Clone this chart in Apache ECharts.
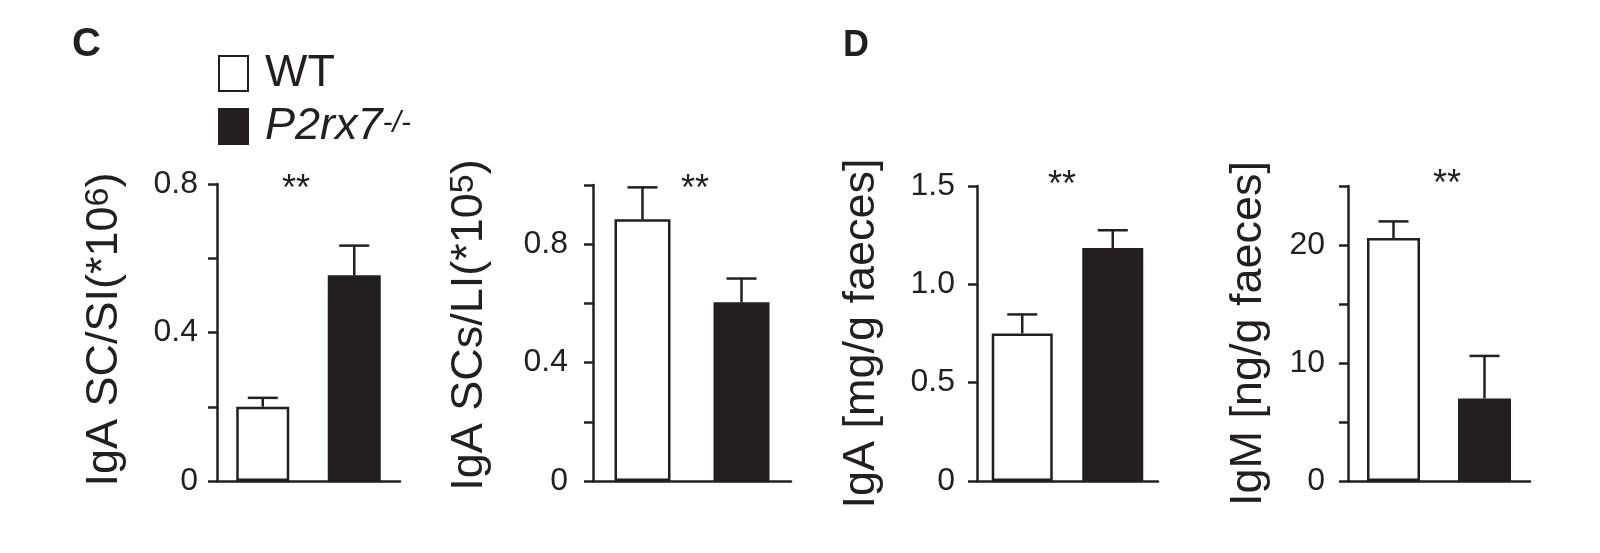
<!DOCTYPE html>
<html>
<head>
<meta charset="utf-8">
<script src="https://cdn.jsdelivr.net/npm/echarts@6/dist/echarts.min.js"></script>
<style>
  html, body { margin: 0; padding: 0; background: #fff; }
  #chart { width: 1600px; height: 553px; }
</style>
</head>
<body>
<div id="chart"></div>
<script>
// 数据：四个小图，每个两组（WT / P2rx7-/-）
const categories = ['WT', 'P2rx7-/-'];
const wtMeans = [0.20, 0.884, 0.75, 20.6];
const wtErrors = [0.024, 0.108, 0.097, 1.4];
const koMeans = [0.554, 0.604, 1.185, 7.0];
const koErrors = [0.080, 0.080, 0.090, 3.6];

// 坐标轴
const axisMax = [0.8, 1.0, 1.5, 25];
const axisStep = [0.2, 0.2, 0.5, 5];
const tickLabels = [
    ['0', '0.4', '0.8'],
    ['0', '0.4', '0.8'],
    ['0', '0.5', '1.0', '1.5'],
    ['0', '10', '20']
];
const axisNames = [
    'IgA SC/SI(*10{sup|6})',
    'IgA SCs/LI(*10{sup|5})',
    'IgA [mg/g faeces]',
    'IgM [ng/g faeces]'
];

// 布局（像素）
const gridBoxes = [
    { left: 217, top: 184, width: 183, height: 297 },
    { left: 593, top: 185, width: 198, height: 296 },
    { left: 977, top: 186, width: 181, height: 295 },
    { left: 1348, top: 186, width: 182, height: 295 }
];
const labelMargins = [19, 25, 22, 23];
const nameGaps = [90, 101, 93, 77];
const nameShift = [3, 8, 0, 0];
const barWidths = [53, 56, 61, 53];
const starPos = [[297, 172], [696, 172], [1063, 168], [1448, 167]];

const INK = '#231f20';
const FONT = '"Liberation Sans", Arial, Helvetica, sans-serif';

const myChart = echarts.init(document.getElementById('chart'));

const grids = gridBoxes.map(g => ({ ...g, containLabel: false }));

const xAxes = gridBoxes.map((g, i) => ({
    type: 'category',
    gridIndex: i,
    data: categories,
    axisLine: { lineStyle: { color: INK, width: 2.5 } },
    axisTick: { alignWithLabel: true, length: 9, lineStyle: { color: INK, width: 2.5 } },
    axisLabel: { show: false }
}));

const yAxes = gridBoxes.map((g, i) => ({
    type: 'value',
    gridIndex: i,
    min: 0,
    max: axisMax[i],
    interval: axisStep[i],
    splitLine: { show: false },
    axisLine: { show: true, lineStyle: { color: INK, width: 2.5 } },
    axisTick: { show: true, length: 9, lineStyle: { color: INK, width: 2.5 } },
    axisLabel: {
        margin: labelMargins[i],
        fontFamily: FONT,
        fontSize: 32,
        color: INK,
        formatter: function (v) {
            const hit = tickLabels[i].find(t => Math.abs(Number(t) - v) < 1e-6);
            return hit === undefined ? '' : hit;
        }
    },
    name: axisNames[i],
    nameLocation: 'middle',
    nameGap: nameGaps[i],
    nameTextStyle: {
        fontFamily: FONT,
        fontSize: 45,
        color: INK,
        padding: [0, 0, 0, nameShift[i] * 2],
        rich: {
            sup: { fontFamily: FONT, fontSize: 34, color: INK, verticalAlign: 'top' }
        }
    }
}));

const series = [];
gridBoxes.forEach((g, i) => {
    series.push({
        name: 'WT',
        type: 'bar',
        xAxisIndex: i,
        yAxisIndex: i,
        barWidth: barWidths[i],
        barGap: '-100%',
        data: [wtMeans[i], '-'],
        itemStyle: { color: '#fff', borderColor: INK, borderWidth: 2.5 }
    });
    series.push({
        name: 'P2rx7-/-',
        type: 'bar',
        xAxisIndex: i,
        yAxisIndex: i,
        barWidth: barWidths[i],
        barGap: '-100%',
        data: ['-', koMeans[i]],
        itemStyle: { color: INK, borderColor: INK, borderWidth: 2.5 }
    });
    // 误差线（只画上半部分）
    series.push({
        type: 'custom',
        xAxisIndex: i,
        yAxisIndex: i,
        z: 3,
        data: [
            [0, wtMeans[i], wtMeans[i] + wtErrors[i]],
            [1, koMeans[i], koMeans[i] + koErrors[i]]
        ],
        renderItem: function (params, api) {
            const base = api.coord([api.value(0), api.value(1)]);
            const top = api.coord([api.value(0), api.value(2)]);
            const style = { stroke: INK, lineWidth: 2.5 };
            return {
                type: 'group',
                children: [
                    { type: 'line', shape: { x1: base[0], y1: base[1], x2: top[0], y2: top[1] }, style: style },
                    { type: 'line', shape: { x1: top[0] - 15, y1: top[1], x2: top[0] + 15, y2: top[1] }, style: style }
                ]
            };
        }
    });
});

// 面板字母和显著性星号
const titles = [
    { text: 'C', left: 72, top: 25, padding: 0, textStyle: { fontFamily: FONT, fontSize: 40, fontWeight: 'bold', color: INK } },
    { text: 'D', left: 843, top: 28, padding: 0, textStyle: { fontFamily: FONT, fontSize: 36, fontWeight: 'bold', color: INK } }
];
starPos.forEach(p => {
    titles.push({
        text: '**',
        left: p[0] - 15,
        top: p[1],
        padding: 0,
        textStyle: { fontFamily: FONT, fontSize: 36, fontWeight: 'normal', color: INK }
    });
});

const option = {
    animation: false,
    backgroundColor: '#fff',
    title: titles,
    legend: {
        left: 213,
        top: 46,
        orient: 'vertical',
        icon: 'rect',
        itemWidth: 29,
        itemHeight: 35,
        itemGap: 8,
        data: categories,
        selectedMode: false,
        formatter: function (name) {
            return name === 'WT' ? '{n|WT}' : '{it|P2rx7}{sup|-/-}';
        },
        textStyle: {
            padding: [0, 0, 0, 12],
            rich: {
                n: { fontFamily: FONT, fontSize: 45, lineHeight: 36, color: INK },
                it: { fontFamily: FONT, fontSize: 45, lineHeight: 36, fontStyle: 'italic', color: INK },
                sup: { fontFamily: FONT, fontSize: 30, lineHeight: 36, fontStyle: 'italic', color: INK, verticalAlign: 'top' }
            }
        }
    },
    grid: grids,
    xAxis: xAxes,
    yAxis: yAxes,
    series: series
};

myChart.setOption(option);
</script>
</body>
</html>
